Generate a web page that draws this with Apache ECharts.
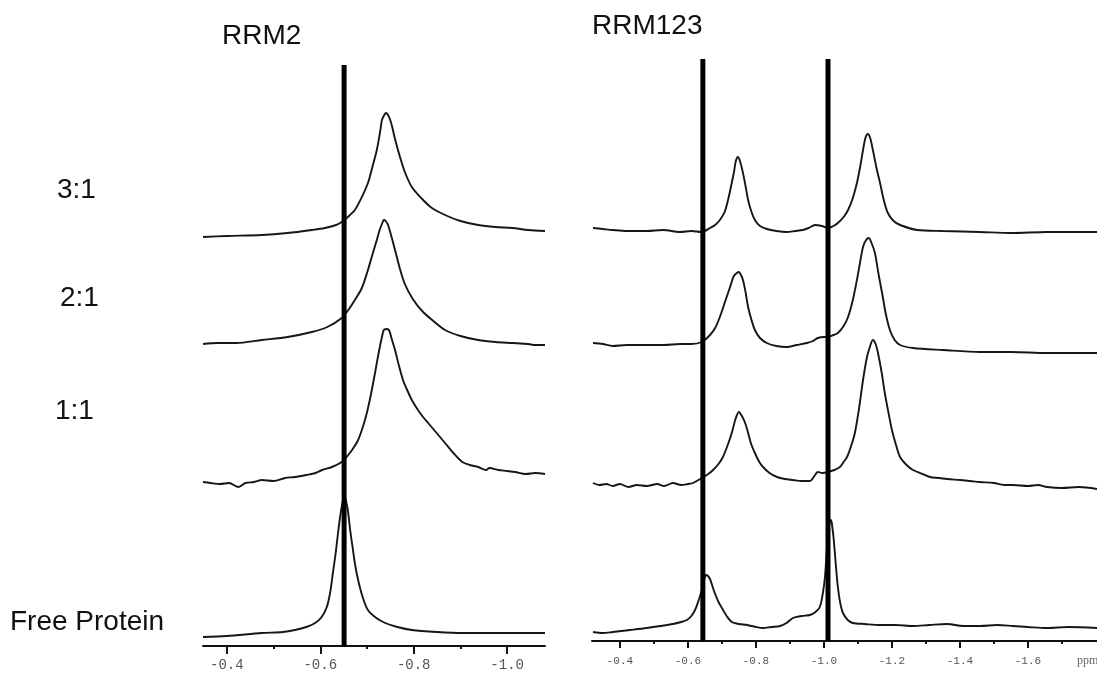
<!DOCTYPE html>
<html>
<head>
<meta charset="utf-8">
<script src="https://cdn.jsdelivr.net/npm/echarts@6/dist/echarts.min.js"></script>
<style>html,body{margin:0;padding:0;background:#fff}#c{width:1097px;height:675px}</style>
</head>
<body>
<div id="c"></div>
<script>
// ---- tick labels (ppm) ----
const ticksLeft = [-0.4, -0.6, -0.8, -1.0];
const minorLeft = [-0.5, -0.7, -0.9];
const ticksRight = [-0.4, -0.6, -0.8, -1.0, -1.2, -1.4, -1.6];
const minorRight = [-0.5, -0.7, -0.9, -1.1, -1.3, -1.5, -1.7];
// ---- reference (free-protein) peak positions ----
const refLeft = [-0.651];
const refRight = [-0.644, -1.012];
// ---- labels ----
const panelTitles = ['RRM2', 'RRM123'];
const ratioLabels = ['3:1', '2:1', '1:1', 'Free Protein'];

// ---- spectra: [ppm, stacked intensity] ----
const rrm2_3to1 = [[-0.349,409],[-0.400,410],[-0.475,411],[-0.530,413],[-0.582,416],[-0.610,418],[-0.634,421],[-0.646,424],[-0.659,429],[-0.674,436],[-0.689,449],[-0.702,463],[-0.711,478],[-0.721,496],[-0.728,514],[-0.732,526],[-0.737,531],[-0.741,533],[-0.745,531],[-0.749,527],[-0.754,519],[-0.760,507],[-0.770,490],[-0.781,474],[-0.796,459],[-0.818,447],[-0.839,438],[-0.867,431],[-0.900,425],[-0.938,421],[-0.975,419],[-1.011,418],[-1.045,416],[-1.081,415]];
const rrm2_2to1 = [[-0.349,302],[-0.380,303],[-0.420,303],[-0.475,306],[-0.530,309],[-0.582,314],[-0.615,319],[-0.646,328],[-0.660,336],[-0.674,346],[-0.689,358],[-0.702,376],[-0.712,392],[-0.721,406],[-0.727,416],[-0.732,422],[-0.736,426],[-0.740,425],[-0.745,421],[-0.752,410],[-0.760,396],[-0.770,378],[-0.781,362],[-0.798,347],[-0.818,335],[-0.842,325],[-0.867,316],[-0.900,310],[-0.938,306],[-0.975,304],[-1.011,303],[-1.045,302],[-1.060,301],[-1.081,301]];
const rrm2_1to1 = [[-0.349,164],[-0.365,163],[-0.385,162],[-0.405,163],[-0.424,159],[-0.440,163],[-0.458,164],[-0.475,166],[-0.500,165],[-0.525,168],[-0.546,169],[-0.570,171],[-0.590,173],[-0.604,176],[-0.625,179],[-0.646,184],[-0.658,190],[-0.668,196],[-0.680,205],[-0.689,216],[-0.698,230],[-0.706,246],[-0.714,265],[-0.721,283],[-0.727,298],[-0.732,309],[-0.736,316],[-0.741,317],[-0.747,316],[-0.753,307],[-0.760,296],[-0.768,281],[-0.777,266],[-0.786,256],[-0.796,246],[-0.809,236],[-0.820,229],[-0.831,223],[-0.849,213],[-0.867,203],[-0.885,193],[-0.904,184],[-0.920,181],[-0.938,179],[-0.955,176],[-0.962,178],[-0.981,176],[-1.000,175],[-1.017,174],[-1.040,172],[-1.060,173],[-1.081,172]];
const rrm2_free = [[-0.349,9],[-0.400,10],[-0.475,13],[-0.520,14],[-0.546,16],[-0.570,19],[-0.589,23],[-0.603,29],[-0.614,39],[-0.621,53],[-0.627,73],[-0.633,93],[-0.638,113],[-0.644,134],[-0.649,146],[-0.653,148],[-0.656,143],[-0.659,136],[-0.664,116],[-0.670,96],[-0.675,80],[-0.681,66],[-0.690,50],[-0.702,36],[-0.720,28],[-0.739,23],[-0.765,19],[-0.796,16],[-0.850,14],[-0.904,13],[-1.000,13],[-1.081,13]];

const rrm123_3to1 = [[-0.321,413],[-0.350,412],[-0.379,411],[-0.420,410],[-0.479,410],[-0.527,411],[-0.577,409],[-0.610,410],[-0.641,409],[-0.665,413],[-0.680,416],[-0.694,421],[-0.708,429],[-0.718,441],[-0.727,455],[-0.735,468],[-0.741,480],[-0.747,484],[-0.753,480],[-0.762,468],[-0.770,454],[-0.777,441],[-0.787,429],[-0.797,421],[-0.812,415],[-0.832,412],[-0.860,410],[-0.891,409],[-0.915,410],[-0.938,411],[-0.955,413],[-0.974,416],[-0.994,415],[-1.012,413],[-1.028,415],[-1.041,418],[-1.058,424],[-1.071,431],[-1.085,443],[-1.097,458],[-1.107,475],[-1.115,491],[-1.122,503],[-1.129,507],[-1.136,503],[-1.144,491],[-1.154,474],[-1.165,458],[-1.176,441],[-1.188,428],[-1.205,420],[-1.224,416],[-1.274,411],[-1.350,410],[-1.459,409],[-1.550,408],[-1.656,409],[-1.730,409],[-1.803,409]];
const rrm123_2to1 = [[-0.321,298],[-0.350,297],[-0.379,295],[-0.420,296],[-0.479,296],[-0.530,296],[-0.577,297],[-0.610,297],[-0.641,299],[-0.665,306],[-0.680,313],[-0.694,324],[-0.710,340],[-0.724,354],[-0.735,365],[-0.744,368],[-0.750,369],[-0.756,366],[-0.762,361],[-0.770,348],[-0.777,334],[-0.787,321],[-0.797,311],[-0.812,303],[-0.832,298],[-0.860,295],[-0.891,294],[-0.920,296],[-0.950,298],[-0.968,300],[-0.982,303],[-1.000,304],[-1.012,304],[-1.028,306],[-1.041,308],[-1.058,315],[-1.071,324],[-1.085,341],[-1.097,361],[-1.107,380],[-1.115,394],[-1.124,401],[-1.132,403],[-1.140,398],[-1.150,388],[-1.160,368],[-1.171,348],[-1.182,327],[-1.194,311],[-1.208,301],[-1.224,296],[-1.262,293],[-1.350,291],[-1.459,289],[-1.550,289],[-1.656,288],[-1.730,288],[-1.803,288]];
const rrm123_1to1 = [[-0.321,158],[-0.340,156],[-0.360,157],[-0.379,155],[-0.400,157],[-0.425,154],[-0.450,156],[-0.479,155],[-0.510,157],[-0.530,155],[-0.556,158],[-0.580,156],[-0.600,157],[-0.615,158],[-0.641,163],[-0.660,167],[-0.674,171],[-0.690,177],[-0.703,184],[-0.716,195],[-0.729,208],[-0.740,222],[-0.750,229],[-0.757,226],[-0.766,220],[-0.774,212],[-0.785,198],[-0.797,188],[-0.810,179],[-0.821,174],[-0.840,168],[-0.862,164],[-0.885,162],[-0.909,161],[-0.935,160],[-0.959,160],[-0.970,164],[-0.982,169],[-0.995,168],[-1.012,169],[-1.030,171],[-1.047,174],[-1.060,180],[-1.068,184],[-1.080,195],[-1.091,208],[-1.103,232],[-1.115,261],[-1.126,283],[-1.135,294],[-1.144,301],[-1.152,297],[-1.159,288],[-1.170,268],[-1.179,248],[-1.190,228],[-1.200,211],[-1.212,196],[-1.224,184],[-1.243,176],[-1.262,171],[-1.290,167],[-1.312,164],[-1.340,163],[-1.362,162],[-1.400,161],[-1.430,160],[-1.459,159],[-1.500,158],[-1.530,156],[-1.556,156],[-1.600,155],[-1.630,156],[-1.656,154],[-1.700,153],[-1.750,154],[-1.803,152]];
const rrm123_free = [[-0.321,9],[-0.350,8],[-0.379,9],[-0.430,11],[-0.479,13],[-0.520,15],[-0.556,17],[-0.580,19],[-0.597,21],[-0.610,25],[-0.621,31],[-0.632,41],[-0.641,51],[-0.647,60],[-0.653,66],[-0.659,65],[-0.665,62],[-0.672,55],[-0.679,48],[-0.690,39],[-0.700,33],[-0.714,25],[-0.729,19],[-0.750,17],[-0.774,16],[-0.800,14],[-0.821,13],[-0.845,14],[-0.871,15],[-0.890,18],[-0.909,23],[-0.935,25],[-0.959,26],[-0.975,29],[-0.988,34],[-0.997,48],[-1.003,64],[-1.008,88],[-1.012,108],[-1.017,119],[-1.021,121],[-1.025,113],[-1.029,101],[-1.035,76],[-1.041,54],[-1.048,38],[-1.056,28],[-1.070,21],[-1.085,18],[-1.120,17],[-1.165,16],[-1.210,16],[-1.262,15],[-1.310,16],[-1.362,17],[-1.410,15],[-1.459,15],[-1.510,16],[-1.556,15],[-1.600,14],[-1.656,13],[-1.720,14],[-1.803,13]];

const leftSpectra = [rrm2_3to1, rrm2_2to1, rrm2_1to1, rrm2_free];
const rightSpectra = [rrm123_3to1, rrm123_2to1, rrm123_1to1, rrm123_free];

const chart = echarts.init(document.getElementById('c'), null, {renderer: 'canvas'});
const fmt = v => (Math.round(v * 10) / 10).toFixed(1);
const monoFont = '"Liberation Mono", "DejaVu Sans Mono", monospace';

function mainX(gi, min, max, ticks, fontSize, margin, tickLen) {
  return {
    type: 'value', gridIndex: gi, min: min, max: max, inverse: true, position: 'bottom',
    axisLine: {show: true, onZero: false, lineStyle: {color: '#111', width: 2}},
    axisTick: {show: true, customValues: ticks, length: tickLen, lineStyle: {color: '#111', width: 2}},
    axisLabel: {show: true, customValues: ticks, formatter: fmt, margin: margin,
      color: '#555', fontFamily: monoFont, fontSize: fontSize},
    splitLine: {show: false}
  };
}
function minorX(gi, min, max, ticks) {
  return {
    type: 'value', gridIndex: gi, min: min, max: max, inverse: true, position: 'bottom',
    axisLine: {show: false, onZero: false},
    axisTick: {show: true, customValues: ticks, length: 3, lineStyle: {color: '#111', width: 2}},
    axisLabel: {show: false},
    splitLine: {show: false}
  };
}
const yL = {type: 'value', gridIndex: 0, min: 0, max: 581, show: false};
const yR = {type: 'value', gridIndex: 1, min: 0, max: 582, show: false};

const lineStyleSpec = {color: '#161616', width: 1.9};
const series = [];
leftSpectra.forEach(d => series.push({
  type: 'line', xAxisIndex: 0, yAxisIndex: 0, data: d, showSymbol: false,
  smooth: 0.3, lineStyle: lineStyleSpec, silent: true, z: 2
}));
rightSpectra.forEach(d => series.push({
  type: 'line', xAxisIndex: 2, yAxisIndex: 1, data: d, showSymbol: false,
  smooth: 0.3, lineStyle: lineStyleSpec, silent: true, z: 2
}));
refLeft.forEach(p => series.push({
  type: 'line', xAxisIndex: 0, yAxisIndex: 0, data: [[p, 0], [p, 581]], showSymbol: false,
  lineStyle: {color: '#000', width: 5}, silent: true, z: 3
}));
refRight.forEach(p => series.push({
  type: 'line', xAxisIndex: 2, yAxisIndex: 1, data: [[p, 0], [p, 582]], showSymbol: false,
  lineStyle: {color: '#000', width: 5}, silent: true, z: 3
}));

const textFont = '"Liberation Sans", Arial, sans-serif';
const labelPos = [[57, 190], [60, 298], [55, 411], [10, 622]];
const graphics = [
  {type: 'text', left: 222, top: 22, style: {text: panelTitles[0], font: '28px ' + textFont, fill: '#111'}},
  {type: 'text', left: 592, top: 12, style: {text: panelTitles[1], font: '28px ' + textFont, fill: '#111'}},
  {type: 'text', left: 1077, top: 655, style: {text: 'ppm', font: '12px "Liberation Serif", serif', fill: '#666'}}
];
ratioLabels.forEach((t, i) => graphics.push({
  type: 'text', x: labelPos[i][0], y: labelPos[i][1],
  style: {text: t, font: '28px ' + textFont, fill: '#111', textVerticalAlign: 'middle'}
}));

chart.setOption({
  animation: false,
  backgroundColor: '#fff',
  grid: [
    {left: 203, right: 552, top: 65, bottom: 29, containLabel: false},
    {left: 592, right: 0, top: 59, bottom: 34, containLabel: false}
  ],
  xAxis: [
    mainX(0, -1.081, -0.349, ticksLeft, 14, 12, 8),
    minorX(0, -1.081, -0.349, minorLeft),
    mainX(1, -1.803, -0.318, ticksRight, 11, 15, 7),
    minorX(1, -1.803, -0.318, minorRight)
  ],
  yAxis: [yL, yR],
  series: series,
  graphic: graphics
});
</script>
</body>
</html>
